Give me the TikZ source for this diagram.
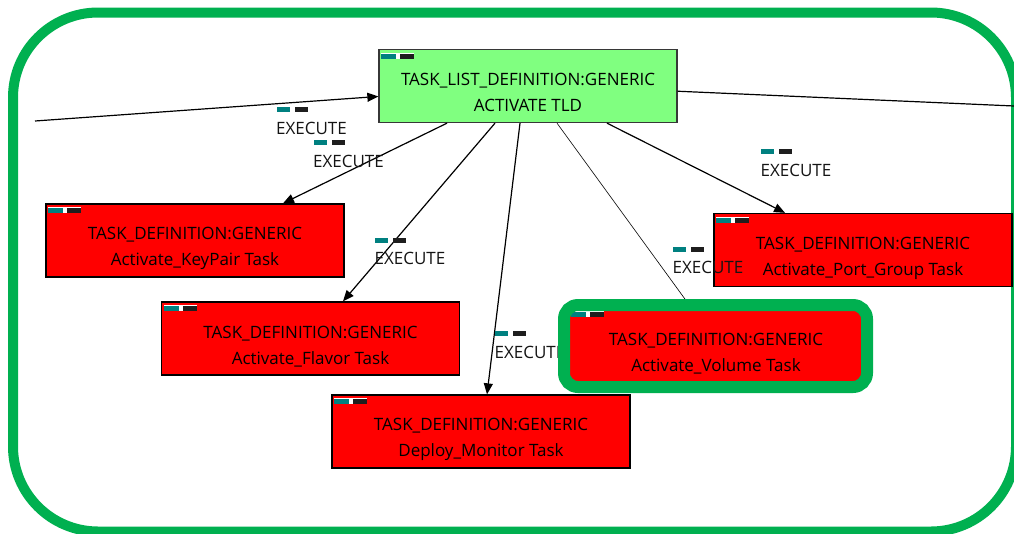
\documentclass[tikz,border=0pt]{standalone}
\usepackage{fontspec}
\setmainfont{Open Sans}
\usetikzlibrary{arrows.meta,calc}

\definecolor{framegreen}{RGB}{0,176,80}
\definecolor{tldgreen}{RGB}{128,255,128}
\definecolor{taskred}{RGB}{255,0,0}
\definecolor{iconteal}{RGB}{0,128,128}
\definecolor{icondark}{RGB}{30,30,30}
\definecolor{boxedge}{RGB}{55,55,55}

% small status marker in the upper left corner of a box
\newcommand\boxicon[1]{%
  \fill[white] ([shift={(3,4)}]#1.north west) rectangle ++(33,6);
  \fill[iconteal] ([shift={(3,5)}]#1.north west) rectangle ++(15,5);
  \fill[icondark] ([shift={(22,5)}]#1.north west) rectangle ++(14,5);
}
% "EXECUTE" connector label with its marker above it
\newcommand\execlabel[3]{%
  \node[elabel] (#1) at (#2,#3) {EXECUTE};
  \fill[iconteal] ([shift={(1,-21)}]#1.west) rectangle ++(13,5);
  \fill[icondark] ([shift={(19,-21)}]#1.west) rectangle ++(13,5);
}

\begin{document}
\begin{tikzpicture}[x=1pt,y=-1pt,
  box/.style={draw=black, line width=1.3pt, minimum width=298pt,
    minimum height=73pt, inner sep=0pt},
  boxtext/.style={align=center, font=\fontsize{17}{26}\selectfont,
    inner sep=0pt},
  link/.style={line width=1.2pt},
  arrowlink/.style={link, -{Triangle[length=11pt,width=9pt]}},
  elabel/.style={font=\fontsize{17}{20}\selectfont, text=black!92,
    inner sep=0pt},
]
\useasboundingbox (0,0) rectangle (1014,533);

% outer frame
\node[draw=framegreen, line width=10pt, rounded corners=85pt,
  minimum width=1003pt, minimum height=519pt] (frame) at (514.5,272) {};

% free ends of the connectors leaving the view
\coordinate (offleft) at (35,121);
\coordinate (offright) at (1030,106.7);

% task boxes
\node[box, draw=boxedge, fill=tldgreen] (tld) at (528,86) {};
\node[box, fill=taskred] (kp) at (195,240.5) {};
\node[box, fill=taskred] (fl) at (310.5,338.5) {};
\node[box, fill=taskred] (dm) at (481,431.5) {};
\node[box, fill=taskred] (pg) at (863,250) {};
\node[box, draw=none, fill=taskred, minimum width=294pt, minimum height=76pt,
  rounded corners=4pt] (vol) at (716,346) {};

% connectors
\draw[arrowlink] (offleft) -- (tld.184);
\draw[link] (tld.358) -- (offright);
\draw[arrowlink] ([xshift=-81]tld.south) -- ([xshift=88]kp.north);
\draw[arrowlink] ([xshift=-33]tld.south) -- ([xshift=32.5]fl.north);
\draw[arrowlink] ([xshift=-8]tld.south) -- ([xshift=6]dm.north);
\draw[line width=0.6pt] ([xshift=29]tld.south) -- ([xshift=-25]vol.north);
\draw[arrowlink] ([xshift=79]tld.south) -- ([xshift=-78]pg.north);

% box contents
\node[boxtext] (tld-txt) at ([yshift=-6]tld.center)
  {TASK\_LIST\_DEFINITION:GENERIC\\ACTIVATE TLD};
\node[boxtext] (kp-txt) at ([yshift=-8]kp.center)
  {TASK\_DEFINITION:GENERIC\\Activate\_KeyPair Task};
\node[boxtext] (fl-txt) at ([yshift=-8]fl.center)
  {TASK\_DEFINITION:GENERIC\\Activate\_Flavor Task};
\node[boxtext] (dm-txt) at ([yshift=-8]dm.center)
  {TASK\_DEFINITION:GENERIC\\Deploy\_Monitor Task};
\node[boxtext] (pg-txt) at ([yshift=-8]pg.center)
  {TASK\_DEFINITION:GENERIC\\Activate\_Port\_Group Task};
\node[boxtext] (vol-txt) at ([yshift=-8]vol.center)
  {TASK\_DEFINITION:GENERIC\\Activate\_Volume Task};

\boxicon{tld}
\boxicon{kp}
\boxicon{fl}
\boxicon{dm}
\boxicon{pg}
\boxicon{vol}

% connector labels
\execlabel{lb-in}{311.5}{128}
\execlabel{lb-kp}{348.5}{161}
\execlabel{lb-fl}{410}{258.5}
\execlabel{lb-dm}{530}{352}
\execlabel{lb-vol}{708}{267.5}
\execlabel{lb-pg}{796}{170}

% selection ring round the volume task
\node[draw=framegreen, line width=12pt, rounded corners=14pt,
  minimum width=303pt, minimum height=82pt] (vol-ring) at (715.5,346) {};
\end{tikzpicture}
\end{document}
